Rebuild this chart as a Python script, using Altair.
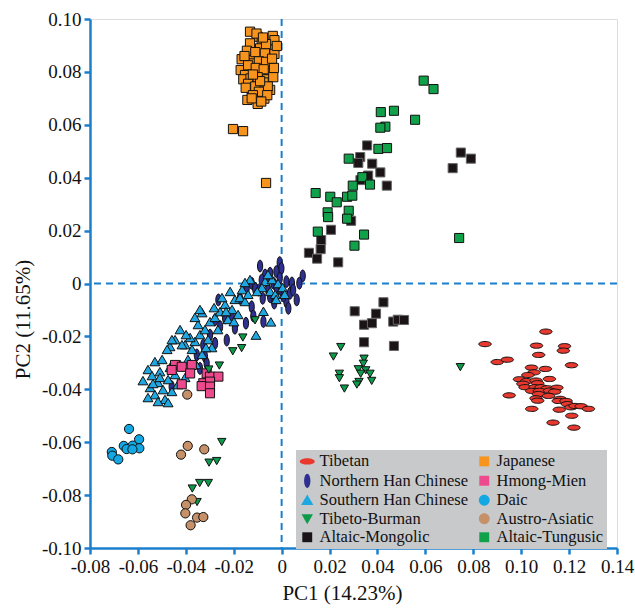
import altair as alt
import pandas as pd

# ---------------- data (PC1, PC2) per population group ----------------
tibetan_x = [0.1103, 0.0849, 0.1064, 0.1181, 0.1176, 0.1073, 0.0900, 0.0942, 0.1210, 0.1043,
             0.1101, 0.1054, 0.1028, 0.1118, 0.0993, 0.1023, 0.1062, 0.1007, 0.1069, 0.1016,
             0.1058, 0.1083, 0.1109, 0.1149, 0.1044, 0.1076, 0.1119, 0.1140, 0.1072, 0.1114,
             0.0950, 0.1062, 0.1069, 0.1162, 0.1155, 0.1187, 0.1193, 0.1208, 0.1225, 0.1250,
             0.1281, 0.1044, 0.1159, 0.1211, 0.1133, 0.1220]
tibetan_y = [-0.0182, -0.0229, -0.0235, -0.0237, -0.0254, -0.0270, -0.0297, -0.0288, -0.0309, -0.0318,
             -0.0323, -0.0336, -0.0346, -0.0361, -0.0362, -0.0369, -0.0367, -0.0379, -0.0377, -0.0392,
             -0.0392, -0.0392, -0.0396, -0.0394, -0.0406, -0.0406, -0.0405, -0.0409, -0.0418, -0.0425,
             -0.0423, -0.0434, -0.0443, -0.0436, -0.0444, -0.0444, -0.0456, -0.0468, -0.0463, -0.0464,
             -0.0474, -0.0474, -0.0477, -0.0500, -0.0526, -0.0545]

japanese_x = [-0.0132, -0.0037, -0.0100, -0.0132, -0.0083, -0.0055, -0.0090, -0.0167, -0.0118, -0.0087,
              -0.0048, -0.0118, -0.0048, -0.0171, -0.0132, -0.0090, -0.0048, -0.0153, -0.0115, -0.0060,
              -0.0083, -0.0048, -0.0125, -0.0107, -0.0072, -0.0143, -0.0100, -0.0030, -0.0105, -0.0065,
              -0.0145, -0.0110, -0.0070, -0.0030, -0.0155, -0.0095, -0.0065, -0.0140, -0.0032, -0.0108,
              -0.0075, -0.0160, -0.0130, -0.0100, -0.0035, -0.0140, -0.0075, -0.0110, -0.0058, -0.0150,
              -0.0095, -0.0120, -0.0060, -0.0085, -0.0125, -0.0090, -0.0120, -0.0040, -0.0078, -0.0020,
              -0.0203, -0.0161, -0.0065]
japanese_y = [0.0952, 0.0936, 0.0933, 0.0908, 0.0914, 0.0885, 0.0889, 0.0848, 0.0857, 0.0855,
              0.0857, 0.0832, 0.0822, 0.0807, 0.0805, 0.0792, 0.0795, 0.0788, 0.0766, 0.0772,
              0.0747, 0.0732, 0.0732, 0.0709, 0.0699, 0.0694, 0.0679, 0.0920, 0.0945, 0.0905,
              0.0880, 0.0875, 0.0870, 0.0868, 0.0860, 0.0840, 0.0838, 0.0825, 0.0815, 0.0815,
              0.0810, 0.0772, 0.0775, 0.0780, 0.0780, 0.0755, 0.0760, 0.0745, 0.0745, 0.0740,
              0.0725, 0.0712, 0.0712, 0.0688, 0.0700, 0.0765, 0.0790, 0.0850, 0.0930, 0.0898,
              0.0584, 0.0576, 0.0380]

nhan_x = [-0.0090, -0.0008, -0.0001, -0.0022, -0.0048, -0.0069, 0.0088, -0.0008, 0.0020, 0.0074,
          -0.0062, -0.0034, -0.0097, -0.0001, 0.0035, 0.0063, 0.0020, -0.0022, -0.0048, -0.0079,
          0.0028, -0.0125, -0.0146, -0.0125, -0.0118, -0.0076, -0.0149, -0.0195, -0.0264, -0.0278,
          -0.0229, -0.0278, -0.0327, -0.0354, -0.0320, -0.0313, -0.0341, -0.0459, -0.0257, -0.0208,
          -0.0174, -0.0111, -0.0056, -0.0022, 0.0043, 0.0008, -0.0031, 0.0048, -0.0083, -0.0236,
          -0.0299]
nhan_y = [0.0066, 0.0079, 0.0057, 0.0045, 0.0039, 0.0032, 0.0029, 0.0020, 0.0007, 0.0001,
          0.0007, 0.0001, -0.0025, -0.0025, -0.0037, -0.0062, -0.0069, -0.0050, -0.0050, -0.0056,
          -0.0094, 0.0001, -0.0018, -0.0088, -0.0123, -0.0144, -0.0150, -0.0169, -0.0062, -0.0138,
          -0.0214, -0.0226, -0.0233, -0.0270, -0.0277, -0.0302, -0.0321, -0.0390, -0.0163, -0.0126,
          -0.0056, -0.0018, -0.0025, -0.0012, 0.0002, -0.0047, -0.0074, -0.0025, 0.0013, -0.0130,
          -0.0195]

shan_x = [-0.0579, -0.0558, -0.0541, -0.0549, -0.0529, -0.0516, -0.0508, -0.0495, -0.0487, -0.0474,
          -0.0466, -0.0458, -0.0529, -0.0499, -0.0445, -0.0433, -0.0424, -0.0403, -0.0558, -0.0516,
          -0.0474, -0.0508, -0.0537, -0.0391, -0.0374, -0.0362, -0.0382, -0.0341, -0.0320, -0.0349,
          -0.0299, -0.0307, -0.0278, -0.0257, -0.0266, -0.0236, -0.0224, -0.0207, -0.0195, -0.0174,
          -0.0182, -0.0153, -0.0291, -0.0332, -0.0357, -0.0403, -0.0215, -0.0249, -0.0165, -0.0140,
          -0.0132, -0.0153, -0.0332, -0.0316, -0.0282, -0.0232, -0.0199, -0.0069, -0.0040, -0.0015,
          0.0004, -0.0082, -0.0048, -0.0102, -0.0027, 0.0013, -0.0057, -0.0023, -0.0076, -0.0045,
          -0.0107, -0.0424, -0.0466, -0.0445, -0.0341, -0.0399, -0.0478, -0.0458, -0.0416, -0.0362]
shan_y = [-0.0369, -0.0327, -0.0350, -0.0395, -0.0422, -0.0376, -0.0335, -0.0403, -0.0440, -0.0365,
          -0.0319, -0.0410, -0.0297, -0.0289, -0.0346, -0.0384, -0.0308, -0.0357, -0.0433, -0.0448,
          -0.0452, -0.0357, -0.0380, -0.0289, -0.0251, -0.0221, -0.0206, -0.0195, -0.0176, -0.0157,
          -0.0146, -0.0214, -0.0130, -0.0108, -0.0176, -0.0081, -0.0138, -0.0100, -0.0062, -0.0055,
          -0.0119, -0.0070, -0.0244, -0.0270, -0.0308, -0.0233, -0.0032, -0.0055, -0.0025, -0.0043,
          0.0013, 0.0002, -0.0112, -0.0244, -0.0093, -0.0108, -0.0146, 0.0006, 0.0013, -0.0002,
          -0.0017, -0.0017, -0.0032, -0.0032, -0.0043, -0.0043, 0.0032, -0.0062, -0.0107, -0.0147,
          -0.0197, -0.0176, -0.0240, -0.0214, -0.0100, -0.0195, -0.0251, -0.0214, -0.0233, -0.0130]

hmong_x = [-0.0445, -0.0417, -0.0375, -0.0382, -0.0417, -0.0313, -0.0299, -0.0264, -0.0327, -0.0299,
           -0.0334, -0.0299, -0.0299, -0.0459]
hmong_y = [-0.0308, -0.0315, -0.0308, -0.0340, -0.0381, -0.0340, -0.0352, -0.0352, -0.0377, -0.0371,
           -0.0388, -0.0390, -0.0415, -0.0327]

daic_x = [-0.0637, -0.0595, -0.0659, -0.0622, -0.0594, -0.0647, -0.0623, -0.0709, -0.0707, -0.0682]
daic_y = [-0.0550, -0.0589, -0.0614, -0.0613, -0.0623, -0.0626, -0.0627, -0.0637, -0.0651, -0.0665]

tb_x = [0.0247, 0.0216, 0.0344, 0.0341, 0.0320, 0.0351, 0.0330, 0.0369, 0.0241, 0.0241,
        0.0376, 0.0323, 0.0314, 0.0262, 0.0746, -0.0111, -0.0162, -0.0167, -0.0204, -0.0260,
        -0.0304, -0.0250, -0.0303, -0.0271, -0.0373, -0.0342, -0.0306, -0.0353]
tb_y = [-0.0239, -0.0275, -0.0283, -0.0302, -0.0323, -0.0327, -0.0340, -0.0340, -0.0340, -0.0357,
        -0.0367, -0.0371, -0.0381, -0.0396, -0.0315, -0.0138, -0.0203, -0.0243, -0.0255, -0.0309,
        -0.0324, -0.0598, -0.0676, -0.0670, -0.0774, -0.0753, -0.0753, -0.0825]

aa_x = [-0.0392, -0.0420, -0.0323, -0.0375, -0.0399, -0.0402, -0.0353, -0.0327, -0.0380, -0.0394]
aa_y = [-0.0614, -0.0647, -0.0627, -0.0816, -0.0837, -0.0869, -0.0885, -0.0883, -0.0914, -0.0420]

mong_x = [0.0357, 0.0328, 0.0320, 0.0378, 0.0412, 0.0361, 0.0329, 0.0439, 0.0290, 0.0206,
          0.0165, 0.0163, 0.0114, 0.0148, 0.0236, 0.0748, 0.0790, 0.0714, 0.0425, 0.0305,
          0.0394, 0.0344, 0.0377, 0.0466, 0.0485, 0.0511, 0.0344, 0.0469]
mong_y = [0.0522, 0.0478, 0.0456, 0.0453, 0.0420, 0.0408, 0.0391, 0.0370, 0.0237, 0.0203,
          0.0164, 0.0130, 0.0116, 0.0094, 0.0080, 0.0495, 0.0472, 0.0436, -0.0071, -0.0105,
          -0.0114, -0.0156, -0.0150, -0.0144, -0.0137, -0.0138, -0.0222, -0.0236]

tung_x = [0.0593, 0.0634, 0.0414, 0.0469, 0.0557, 0.0433, 0.0412, 0.0404, 0.0440, 0.0280,
          0.0337, 0.0297, 0.0369, 0.0142, 0.0203, 0.0230, 0.0273, 0.0295, 0.0192, 0.0194,
          0.0280, 0.0273, 0.0151, 0.0344, 0.0304, 0.0741]
tung_y = [0.0767, 0.0735, 0.0648, 0.0653, 0.0619, 0.0593, 0.0589, 0.0509, 0.0512, 0.0472,
          0.0402, 0.0370, 0.0374, 0.0342, 0.0328, 0.0307, 0.0328, 0.0332, 0.0269, 0.0251,
          0.0275, 0.0245, 0.0196, 0.0185, 0.0143, 0.0172]

# legend order (filled column by column, two columns)
legend_order = ["Tibetan", "Northern Han Chinese", "Southern Han Chinese", "Tibeto-Burman",
                "Altaic-Mongolic", "Japanese", "Hmong-Mien", "Daic", "Austro-Asiatic",
                "Altaic-Tungusic"]

# ---------------- styles ----------------
ELL_H = "M-1,0A1,0.42,0,1,1,1,0A1,0.42,0,1,1,-1,0Z"
ELL_V = "M0,-0.95A0.42,0.95,0,1,1,0,0.95A0.42,0.95,0,1,1,0,-0.95Z"
TRI_UP = "M0,-0.78L0.82,0.62L-0.82,0.62Z"
TRI_DN = "M0,0.72L0.76,-0.6L-0.76,-0.6Z"
SQR = "M-0.66,-0.66L0.66,-0.66L0.66,0.66L-0.66,0.66Z"
CIR = "M-0.72,0A0.72,0.72,0,1,1,0.72,0A0.72,0.72,0,1,1,-0.72,0Z"

style = {
    "Tibetan": ("#e8392f", ELL_H, 155, "#111111"),
    "Japanese": ("#f7941d", SQR, 195, "#111111"),
    "Northern Han Chinese": ("#2e3192", ELL_V, 155, "#111111"),
    "Hmong-Mien": ("#ec4a8d", SQR, 190, "#111111"),
    "Southern Han Chinese": ("#1ea7e1", TRI_UP, 145, "#111111"),
    "Daic": ("#13a8e3", CIR, 165, "#111111"),
    "Tibeto-Burman": ("#0c9b4b", TRI_DN, 120, "#111111"),
    "Austro-Asiatic": ("#c69069", CIR, 165, "#111111"),
    "Altaic-Mongolic": ("#1a1416", SQR, 190, "#666666"),
    "Altaic-Tungusic": ("#12a14b", SQR, 190, "#111111"),
}

draw_order = [
    ("Northern Han Chinese", nhan_x, nhan_y),
    ("Southern Han Chinese", shan_x, shan_y),
    ("Hmong-Mien", hmong_x, hmong_y),
    ("Tibeto-Burman", tb_x, tb_y),
    ("Austro-Asiatic", aa_x, aa_y),
    ("Daic", daic_x, daic_y),
    ("Tibetan", tibetan_x, tibetan_y),
    ("Altaic-Mongolic", mong_x, mong_y),
    ("Altaic-Tungusic", tung_x, tung_y),
    ("Japanese", japanese_x, japanese_y),
]

rows = []
order = 0
for g, xs, ys in draw_order:
    for xv, yv in zip(xs, ys):
        rows.append({"PC1": xv, "PC2": yv, "group": g,
                     "sz": style[g][2], "st": style[g][3], "ord": order})
        order += 1
df = pd.DataFrame(rows)

BLUE = "#1b7fcc"
FONT = "Liberation Serif"

xscale = alt.Scale(domain=[-0.08, 0.14], nice=False, zero=False)
yscale = alt.Scale(domain=[-0.10, 0.10], nice=False, zero=False)

label_expr = "datum.value == 0 ? '0' : (datum.value < 0 ? '-' : '') + format(abs(datum.value), '.2f')"

xaxis = alt.Axis(values=[-0.08, -0.06, -0.04, -0.02, 0, 0.02, 0.04, 0.06, 0.08, 0.10, 0.12, 0.14],
                 labelExpr=label_expr, title="PC1 (14.23%)", grid=False,
                 domainColor=BLUE, domainWidth=2.5, tickColor=BLUE, tickWidth=2.5, tickSize=6,
                 labelFont=FONT, labelFontSize=19, labelColor="#111111", labelPadding=3,
                 titleFont=FONT, titleFontSize=21, titleFontWeight="normal", titleColor="#111111",
                 titlePadding=6, titleX=252, labelFlush=False, labelOverlap=False)
yaxis = alt.Axis(values=[-0.10, -0.08, -0.06, -0.04, -0.02, 0, 0.02, 0.04, 0.06, 0.08, 0.10],
                 labelExpr=label_expr, title="PC2 (11.65%)", grid=False,
                 domainColor=BLUE, domainWidth=2.5, tickColor=BLUE, tickWidth=2.5, tickSize=6,
                 labelFont=FONT, labelFontSize=19, labelColor="#111111", labelPadding=3,
                 titleFont=FONT, titleFontSize=21, titleFontWeight="normal", titleColor="#111111",
                 titlePadding=8, titleY=300, labelFlush=False, labelOverlap=False)

zero_v = alt.Chart(pd.DataFrame({"v": [0.0]})).mark_rule(
    color=BLUE, strokeWidth=2, strokeDash=[7, 5]).encode(x=alt.X("v:Q", scale=xscale, axis=xaxis))
zero_h = alt.Chart(pd.DataFrame({"v": [0.0]})).mark_rule(
    color=BLUE, strokeWidth=2, strokeDash=[7, 5]).encode(y=alt.Y("v:Q", scale=yscale, axis=yaxis))

points = alt.Chart(df).mark_point(filled=True, opacity=1, strokeWidth=1).encode(
    x=alt.X("PC1:Q", scale=xscale, axis=xaxis),
    y=alt.Y("PC2:Q", scale=yscale, axis=yaxis),
    fill=alt.Fill("group:N",
                  scale=alt.Scale(domain=legend_order, range=[style[g][0] for g in legend_order]),
                  legend=alt.Legend(title=None, orient="none", legendX=206, legendY=431,
                                    columns=2, columnPadding=8, rowPadding=1.5,
                                    fillColor="#c8c9cb", padding=3,
                                    symbolSize=225, symbolStrokeColor="#111111",
                                    symbolStrokeWidth=1, symbolOpacity=1,
                                    labelFont=FONT, labelFontSize=16.5, labelColor="#111111",
                                    labelOffset=4, labelLimit=300)),
    shape=alt.Shape("group:N",
                    scale=alt.Scale(domain=legend_order, range=[style[g][1] for g in legend_order])),
    size=alt.Size("sz:Q", scale=None, legend=None),
    stroke=alt.Stroke("st:N", scale=None, legend=None),
    order=alt.Order("ord:Q"),
)

chart = alt.layer(zero_v, zero_h, points).properties(
    width=527, height=529,
    autosize="none",
    padding={"left": 90, "top": 19, "right": 18, "bottom": 61},
).configure_view(stroke=BLUE, strokeWidth=2.5).configure(background="white")

chart.save("out.html", embed_options={"renderer": "svg", "actions": False})
